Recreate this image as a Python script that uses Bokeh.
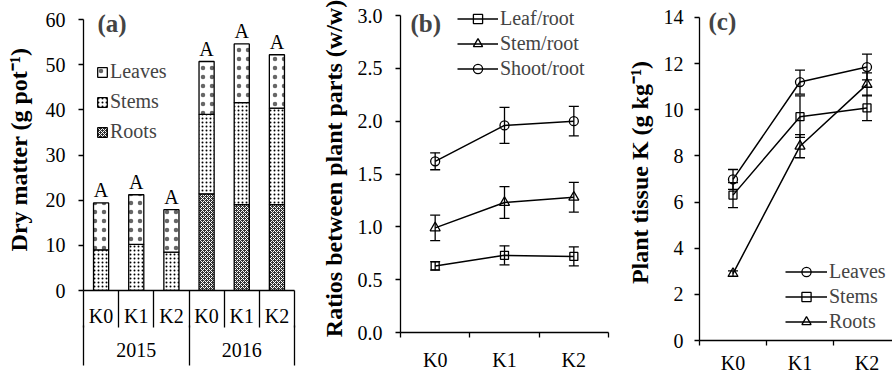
from bokeh.plotting import figure
from bokeh.layouts import row
from bokeh.models import (Range1d, FixedTicker, LinearAxis, Legend, LegendItem, Whisker,
                          TeeHead, ColumnDataSource, Label, NumeralTickFormatter)
from bokeh.embed import file_html
from bokeh.resources import INLINE
from bokeh.core.properties import value

FONT = "Liberation Serif"

# ---------------- data ----------------
# panel (a): dry matter, g pot-1
years = ["2015", "2016"]
treatments = ["K0", "K1", "K2", "K0", "K1", "K2"]
roots_dm = [0, 0, 0, 21.4, 19.0, 19.0]
stems_dm = [9.0, 10.2, 8.5, 17.6, 22.6, 21.4]
leaves_dm = [10.4, 11.0, 9.4, 11.7, 13.0, 11.8]
letters = ["A", "A", "A", "A", "A", "A"]

# panel (b): ratios between plant parts
k_levels = ["K0", "K1", "K2"]
leaf_root = [0.63, 0.73, 0.72]
leaf_root_err = [0.04, 0.09, 0.09]
stem_root = [0.99, 1.23, 1.28]
stem_root_err = [0.12, 0.15, 0.14]
shoot_root = [1.62, 1.96, 2.00]
shoot_root_err = [0.08, 0.17, 0.14]

# panel (c): plant tissue K, g kg-1
k_leaves = [6.98, 11.2, 11.85]
k_leaves_err = [0.43, 0.52, 0.56]
k_stems = [6.3, 9.7, 10.08]
k_stems_err = [0.54, 0.9, 0.55]
k_roots = [2.9, 8.42, 11.1]
k_roots_err = [0.12, 0.5, 0.5]

TICK = "20px"
LAB = "24px"
TAG = "25px"
H = 376


def style_fig(p):
    p.grid.visible = False
    p.outline_line_color = None
    p.background_fill_color = "white"
    p.border_fill_color = "white"
    p.frame_align = False


def style_axis(ax, standoff):
    ax.axis_line_color = "black"
    ax.axis_line_width = 1.3
    ax.major_tick_line_color = "black"
    ax.major_tick_line_width = 1.3
    ax.major_tick_in = 0
    ax.major_tick_out = 5
    ax.minor_tick_line_color = None
    ax.major_label_text_font = FONT
    ax.major_label_text_font_size = TICK
    ax.major_label_text_color = "black"
    ax.major_label_standoff = standoff
    ax.axis_label_text_font = FONT
    ax.axis_label_text_font_size = LAB
    ax.axis_label_text_font_style = "bold"
    ax.axis_label_text_color = "black"


# ---------------- panel (a) ----------------
n = len(treatments)
xa = [i + 0.5 for i in range(n)]
bnd = [float(i) for i in range(n + 1)]
s_top = [r + s for r, s in zip(roots_dm, stems_dm)]
totals = [t + l for t, l in zip(s_top, leaves_dm)]

# frame from y=8 to y=290; 0..60 occupies 19..290
pa = figure(width=304, height=H, x_range=Range1d(0, n), y_range=Range1d(0, 60 * 282 / 271),
            output_backend="svg", toolbar_location=None,
            min_border_left=83, min_border_right=10, min_border_top=8, min_border_bottom=H - 290)
style_fig(pa)

src_a = ColumnDataSource(dict(x=xa, r=roots_dm, st=s_top, tot=totals, lab=letters))
r_roots = pa.vbar(x="x", width=0.43, bottom=0, top="r", source=src_a,
                  fill_color="#333333", line_color="black", line_width=1.3,
                  hatch_pattern="diagonal_cross", hatch_scale=4, hatch_color="white",
                  hatch_weight=1)
r_stems = pa.vbar(x="x", width=0.43, bottom="r", top="st", source=src_a,
                  fill_color="white", line_color="black", line_width=1.3,
                  hatch_pattern="dot", hatch_scale=4, hatch_color="black", hatch_weight=1)
r_leaves = pa.vbar(x="x", width=0.43, bottom="st", top="tot", source=src_a,
                   fill_color="white", line_color="black", line_width=1.3,
                   hatch_pattern="dot", hatch_scale=9, hatch_color="black", hatch_weight=1,
                   hatch_alpha=0.6)
pa.text(x="x", y="tot", text="lab", source=src_a, text_align="center", text_baseline="bottom",
        y_offset=-2, text_font=value(FONT), text_font_size=TICK, text_color="black")

ya_a = pa.yaxis[0]
style_axis(ya_a, 13)
ya_a.ticker = FixedTicker(ticks=list(range(0, 61, 10)))
ya_a.bounds = (0, 60)
ya_a.axis_label = "Dry matter (g pot\u207b\u00b9)"
ya_a.axis_label_standoff = 11

xa_ax = pa.xaxis[0]
style_axis(xa_ax, -23)
xa_ax.ticker = FixedTicker(ticks=xa, minor_ticks=bnd)
xa_ax.major_label_overrides = {x: t for x, t in zip(xa, treatments)}
xa_ax.major_tick_line_color = None
xa_ax.major_tick_out = 0
xa_ax.minor_tick_line_color = "black"
xa_ax.minor_tick_line_width = 1.3
xa_ax.minor_tick_in = 0
xa_ax.minor_tick_out = 37

g = n // len(years)
grp_x = [sum(xa[i * g:(i + 1) * g]) / g for i in range(len(years))]
grp_b = [bnd[i * g] for i in range(len(years) + 1)]
ax2 = LinearAxis(ticker=FixedTicker(ticks=grp_x, minor_ticks=grp_b))
style_axis(ax2, -23)
ax2.axis_line_color = None
ax2.major_tick_line_color = None
ax2.major_tick_out = 0
ax2.minor_tick_line_color = "black"
ax2.minor_tick_line_width = 1.3
ax2.minor_tick_in = 4
ax2.minor_tick_out = 36
ax2.major_label_overrides = {x: t for x, t in zip(grp_x, years)}
pa.add_layout(ax2, "below")

leg_a = Legend(items=[LegendItem(label="Leaves", renderers=[r_leaves]),
                      LegendItem(label="Stems", renderers=[r_stems]),
                      LegendItem(label="Roots", renderers=[r_roots])],
               location=(13, 147), glyph_width=12, glyph_height=12, label_standoff=2,
               spacing=7, padding=0, margin=0, border_line_color=None, background_fill_alpha=0,
               label_text_font=FONT, label_text_font_size=TICK)
pa.add_layout(leg_a)
pa.add_layout(Label(x=14, y=267, x_units="screen", y_units="screen", text="(a)",
                    text_font=FONT, text_font_size=TAG, text_font_style="bold",
                    text_baseline="middle"))


# ---------------- line panels ----------------
def line_panel(width, bl, br, top_px, bottom_px, axis_top_px, x_end, y_end, y_step, fmt,
               series, ylabel, ylab_standoff, tick_standoff, xlab_standoff, leg_loc, leg_gw,
               tag, tag_xy):
    m = len(k_levels)
    xs = [i + 0.5 for i in range(m)]
    y_top = y_end * (bottom_px - top_px) / (bottom_px - axis_top_px)
    p = figure(width=width, height=H, x_range=Range1d(0, x_end), y_range=Range1d(0, y_top),
               output_backend="svg", toolbar_location=None,
               min_border_left=bl, min_border_right=br, min_border_top=top_px,
               min_border_bottom=H - bottom_px)
    style_fig(p)
    items = []
    for name, vals, errs, marker, size in series:
        src = ColumnDataSource(dict(x=xs, y=vals, up=[v + e for v, e in zip(vals, errs)],
                                    lo=[v - e for v, e in zip(vals, errs)]))
        lr = p.line(x="x", y="y", source=src, line_color="black", line_width=1.5)
        sr = p.scatter(x="x", y="y", source=src, marker=marker, size=size, fill_color=None,
                       line_color="black", line_width=1.3)
        w = Whisker(source=src, base="x", upper="up", lower="lo", dimension="height",
                    line_color="black", line_width=1.3, level="overlay",
                    upper_head=TeeHead(size=10, line_color="black", line_width=1.3),
                    lower_head=TeeHead(size=10, line_color="black", line_width=1.3))
        p.add_layout(w)
        items.append(LegendItem(label=name, renderers=[lr, sr]))
    ya = p.yaxis[0]
    style_axis(ya, tick_standoff)
    ticks = []
    t = 0.0
    while t <= y_end + 1e-9:
        ticks.append(round(t, 3))
        t += y_step
    ya.ticker = FixedTicker(ticks=ticks)
    ya.bounds = (0, y_end)
    ya.formatter = NumeralTickFormatter(format=fmt)
    ya.axis_label = ylabel
    ya.axis_label_standoff = ylab_standoff
    xa_ = p.xaxis[0]
    style_axis(xa_, xlab_standoff)
    xa_.ticker = FixedTicker(ticks=xs, minor_ticks=[float(i) for i in range(m + 1)])
    xa_.major_label_overrides = {x: t for x, t in zip(xs, k_levels)}
    xa_.major_tick_line_color = None
    xa_.major_tick_out = 0
    xa_.minor_tick_line_color = "black"
    xa_.minor_tick_line_width = 1.3
    xa_.minor_tick_in = 0
    xa_.minor_tick_out = 5
    leg = Legend(items=items, location=leg_loc, glyph_width=leg_gw, glyph_height=23,
                 label_standoff=2, spacing=2, padding=0, margin=0, border_line_color=None,
                 background_fill_alpha=0, label_text_font=FONT, label_text_font_size=TICK)
    p.add_layout(leg)
    p.add_layout(Label(x=tag_xy[0], y=tag_xy[1], x_units="screen", y_units="screen", text=tag,
                       text_font=FONT, text_font_size=TAG, text_font_style="bold",
                       text_baseline="middle"))
    return p


pb = line_panel(308, 96, 4, 4, 332, 15, 3, 3.0, 0.5, "0.0",
                [("Leaf/root", leaf_root, leaf_root_err, "square", 8),
                 ("Stem/root", stem_root, stem_root_err, "triangle", 10),
                 ("Shoot/root", shoot_root, shoot_root_err, "circle", 9)],
                "Ratios between plant parts (w/w)", 8, 13, 11, (57, 252), 41, "(b)", (10, 309))

pc = line_panel(280, 87, 0, 4, 342, 17, 193 / 67, 14, 2, "0",
                [("Leaves", k_leaves, k_leaves_err, "circle", 9),
                 ("Stems", k_stems, k_stems_err, "square", 8),
                 ("Roots", k_roots, k_roots_err, "triangle", 10)],
                "Plant tissue K (g kg\u207b\u00b9)", 8, 11, 6, (86, 7), 42, "(c)", (9, 319))

layout = row(pa, pb, pc)
open("out.html", "w").write(file_html(layout, INLINE))
